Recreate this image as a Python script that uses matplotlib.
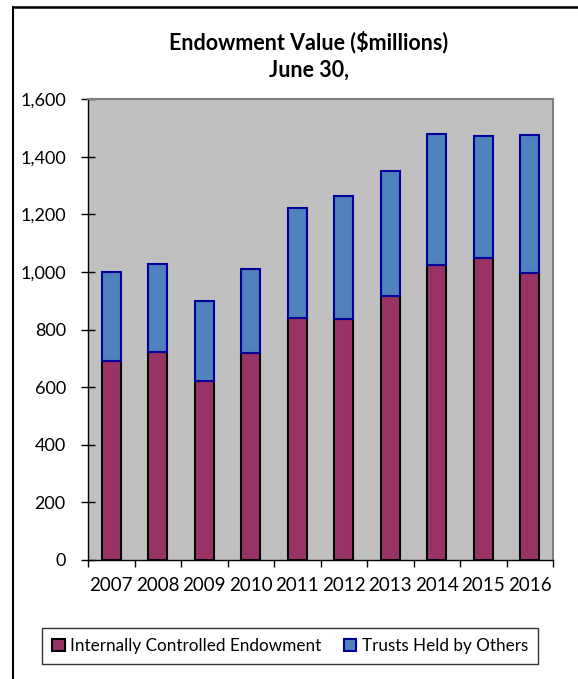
import matplotlib.pyplot as plt
import matplotlib.lines as mlines
import numpy as np

years = ['2007', '2008', '2009', '2010', '2011', '2012', '2013', '2014', '2015', '2016']
internal = [691, 722, 622, 718, 840, 836, 917, 1024, 1047, 995]
trusts = [309, 304, 277, 291, 381, 427, 432, 456, 425, 480]

plt.rcParams['font.family'] = ['Lato', 'DejaVu Sans']

W, H = 578, 679
fig = plt.figure(figsize=(W / 100, H / 100), dpi=100)
ax = fig.add_axes([88 / W, (H - 560) / H, 465 / W, 461 / H])

x = np.arange(len(years))
ax.bar(x, internal, width=0.41, color='#993366', edgecolor='black', linewidth=1.5,
       label='Internally Controlled Endowment', zorder=3)
ax.bar(x, trusts, width=0.41, bottom=internal, color='#4F81BD', edgecolor='#000099',
       linewidth=1.5, label='Trusts Held by Others', zorder=3)

ax.set_facecolor('#C0C0C0')
ax.set_xlim(-0.5, len(years) - 0.5)
ax.set_ylim(0, 1600)
ax.set_yticks(range(0, 1601, 200))
ax.set_yticklabels([f'{v:,}' for v in range(0, 1601, 200)], fontsize=13)
ax.set_xticks(np.arange(-0.5, len(years), 1))
ax.set_xticklabels([])
ax.set_xticks(x, minor=True)
ax.set_xticklabels(years, minor=True, fontsize=13.5)
ax.tick_params(axis='x', which='minor', length=0, pad=12)
ax.tick_params(axis='x', which='major', length=5, width=1, direction='out')
ax.tick_params(axis='y', length=10, width=1, direction='inout', pad=11)
for s in ['top', 'right']:
    ax.spines[s].set_color('#808080')
    ax.spines[s].set_linewidth(1.5)
ax.spines['left'].set_linewidth(1)
ax.spines['bottom'].set_linewidth(1)

fig.text(309 / W, 1 - 42 / H, 'Endowment Value ($millions)', ha='center', va='center',
         fontsize=15.5, fontweight='bold')
fig.text(309 / W, 1 - 70 / H, 'June 30,', ha='center', va='center',
         fontsize=15.5, fontweight='bold')

leg = fig.legend(loc='center', bbox_to_anchor=(290 / W, 1 - 646 / H), ncol=2,
                 fontsize=12.3, frameon=True, fancybox=False, edgecolor='black',
                 handlelength=0.75, handleheight=0.75, handletextpad=0.3,
                 columnspacing=1.3, borderpad=0.6)
leg.get_frame().set_linewidth(1)

# outer chart border (top and left only visible)
fig.add_artist(mlines.Line2D([13 / W, 1], [1 - 7 / H, 1 - 7 / H], transform=fig.transFigure,
                             color='black', linewidth=1.8))
fig.add_artist(mlines.Line2D([13 / W, 13 / W], [0, 1 - 7 / H], transform=fig.transFigure,
                             color='black', linewidth=1.5))

fig.savefig('out.png', dpi=100)
